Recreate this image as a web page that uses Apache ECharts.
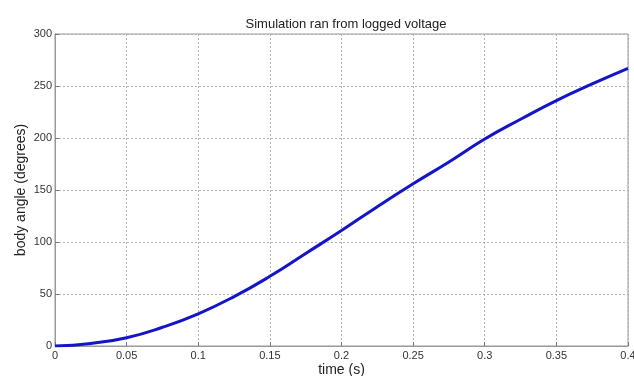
<!DOCTYPE html>
<html>
<head>
<meta charset="utf-8">
<script src="https://cdn.jsdelivr.net/npm/echarts@6/dist/echarts.min.js"></script>
<style>html,body{margin:0;padding:0;background:#fff;overflow:hidden;}#c{width:634px;height:376px;}</style>
</head>
<body>
<div id="c"></div>
<script>
var timeS = [0, 0.025, 0.05, 0.075, 0.1, 0.125, 0.15, 0.175, 0.2, 0.225, 0.25, 0.275, 0.3, 0.325, 0.35, 0.375, 0.4];
var bodyAngle = [0, 2.5, 8, 18, 31, 47.5, 67, 89, 111, 134, 156, 177, 199, 218, 236, 252, 267];
var xTicks = [0, 0.05, 0.1, 0.15, 0.2, 0.25, 0.3, 0.35, 0.4];
var yTicks = [0, 50, 100, 150, 200, 250, 300];

var chart = echarts.init(document.getElementById('c'), null, {renderer: 'canvas'});
var font = '"Liberation Sans", Arial, sans-serif';
var pts = timeS.map(function (t, i) { return [t, bodyAngle[i]]; });
chart.setOption({
  animation: false,
  backgroundColor: '#fff',
  title: {
    text: 'Simulation ran from logged voltage',
    left: 341, top: 13, textAlign: 'center',
    textStyle: {fontFamily: font, fontSize: 13, fontWeight: 'normal', color: '#222'}
  },
  grid: {left: 55, right: 6, top: 34, bottom: 30, show: true, borderColor: '#999', borderWidth: 1,
    containLabel: false, outerBoundsMode: 'none'},
  xAxis: {
    type: 'value', min: 0, max: 0.4, interval: 0.05,
    name: 'time (s)', nameLocation: 'middle', nameGap: 17, nameMoveOverlap: false,
    nameTextStyle: {fontFamily: font, fontSize: 14, color: '#222'},
    axisLine: {show: true, lineStyle: {color: '#999'}},
    axisTick: {show: true, inside: true, length: 4, lineStyle: {color: '#777'}},
    axisLabel: {fontFamily: font, fontSize: 11, color: '#333', margin: 4,
      formatter: function (v) { return xTicks.indexOf(Math.round(v * 100) / 100) >= 0 ? String(Math.round(v * 100) / 100) : ''; }},
    splitLine: {show: true, lineStyle: {color: '#b0b0b0', type: [2, 2], width: 1}}
  },
  yAxis: {
    type: 'value', min: 0, max: 300, interval: 50,
    name: 'body angle (degrees)', nameLocation: 'middle', nameGap: 27, nameMoveOverlap: false, nameRotate: 90,
    nameTextStyle: {fontFamily: font, fontSize: 14, color: '#222'},
    axisLine: {show: true, lineStyle: {color: '#999'}},
    axisTick: {show: true, inside: true, length: 4, lineStyle: {color: '#777'}},
    axisLabel: {fontFamily: font, fontSize: 11, color: '#333', margin: 3,
      formatter: function (v) { return yTicks.indexOf(v) >= 0 ? String(v) : ''; }},
    splitLine: {show: true, lineStyle: {color: '#b0b0b0', type: [2, 2], width: 1}}
  },
  series: [{
    type: 'line', data: pts, smooth: 0.5, showSymbol: false, symbol: 'none',
    lineStyle: {color: '#1414c8', width: 3}
  }]
});
</script>
</body>
</html>
